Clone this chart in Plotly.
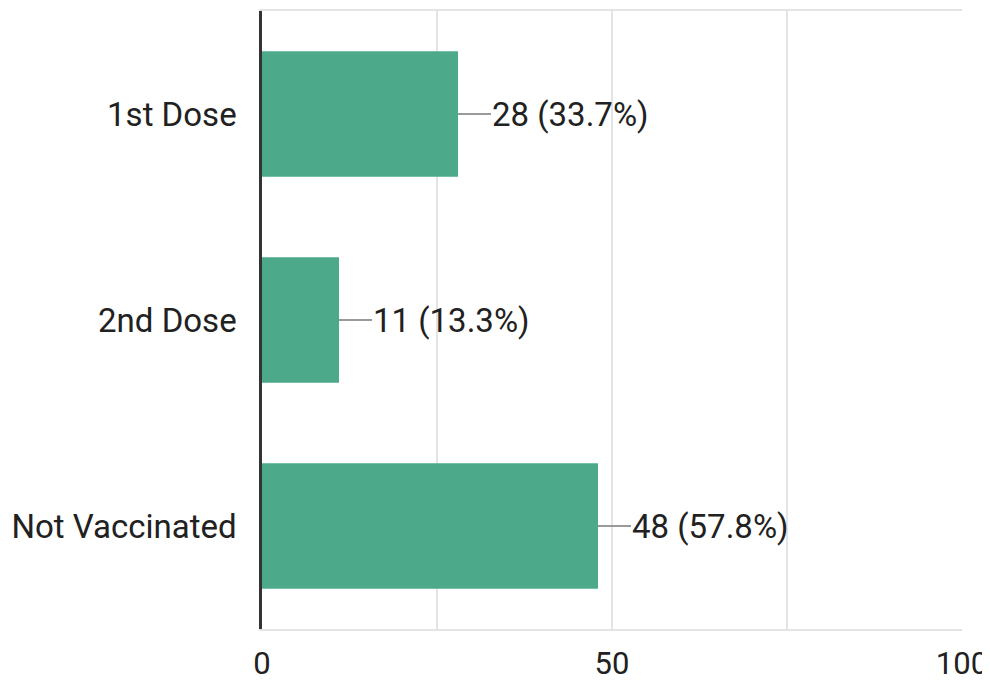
import plotly.graph_objects as go

categories = ["1st Dose", "2nd Dose", "Not Vaccinated"]
counts = [28, 11, 48]
percents = [33.7, 13.3, 57.8]
tick_values = [0, 25, 50, 75, 100]
tick_labels = ["0", "", "50", "", "100"]

bar_color = "#4caa8a"
text_color = "#212121"
font_family = "Roboto, Arial, sans-serif"

fig = go.Figure()
fig.add_trace(go.Bar(
    x=counts,
    y=categories,
    orientation="h",
    marker=dict(color=bar_color, line=dict(width=0)),
    width=0.61,
    hoverinfo="skip",
))

for cat, n, p in zip(categories, counts, percents):
    fig.add_annotation(
        x=n, y=cat, xref="x", yref="y",
        text=f"{n} ({p}%)",
        showarrow=True, arrowhead=0, arrowwidth=2, arrowcolor="#9a9a9a",
        ax=33, ay=0, xanchor="left", yanchor="middle",
        borderpad=0, standoff=0,
        font=dict(family=font_family, size=33, color=text_color),
    )

# page body has an 8px margin, so the figure is sized to end at the window's right/bottom edge
fig.update_layout(
    width=982, height=673,
    margin=dict(l=254, r=28, t=3, b=52),
    paper_bgcolor="white", plot_bgcolor="white",
    showlegend=False,
    font=dict(family=font_family, color=text_color),
)
fig.update_xaxes(
    range=[0, 100],
    tickmode="array", tickvals=tick_values, ticktext=tick_labels,
    showgrid=True, gridcolor="#e4e4e4", gridwidth=1.5,
    zeroline=False,
    showline=True, linecolor="#e4e4e4", linewidth=1.5, mirror=True,
    ticks="", ticklabelstandoff=6, ticklabeloverflow="allow",
    tickfont=dict(family=font_family, size=31, color=text_color),
    automargin=False,
    fixedrange=True,
)
fig.update_yaxes(
    categoryorder="array", categoryarray=categories, autorange="reversed",
    showgrid=False, zeroline=False,
    showline=True, linecolor="#333333", linewidth=2.5,
    ticks="", ticklabelstandoff=16,
    tickfont=dict(family=font_family, size=33, color=text_color),
    automargin=False,
    fixedrange=True,
)

fig.write_html("out.html")
